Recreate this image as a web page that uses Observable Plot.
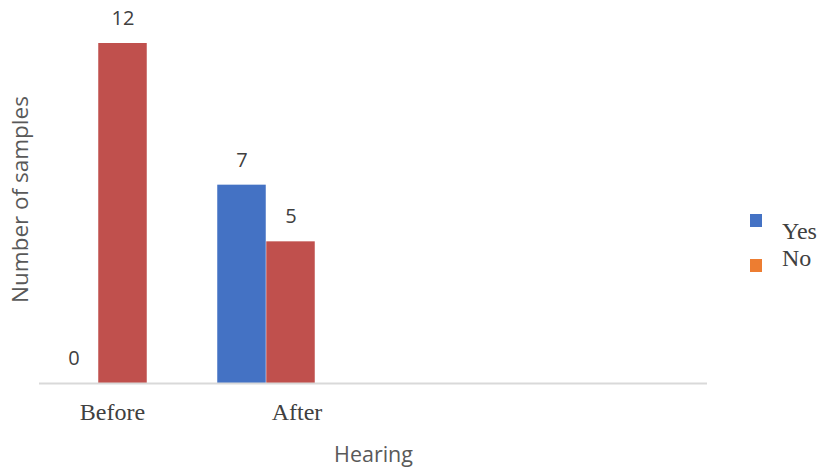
<!DOCTYPE html>
<html><head><meta charset="utf-8">
<script src="https://cdn.jsdelivr.net/npm/d3@7"></script>
<script src="https://cdn.jsdelivr.net/npm/@observablehq/plot@0.6"></script>
<style>
body{margin:0;background:#fff}
#wrap{position:relative;width:820px;height:468px;overflow:hidden}
.lg-sw{position:absolute;width:12px;height:13px}
.lg-tx{position:absolute;font-family:"Liberation Serif","Times New Roman",serif;font-size:24px;line-height:24px;color:#404040;white-space:nowrap}
</style>
</head><body><div id="wrap"></div>
<script>
const groups = ["Before", "After"];
const series = ["Yes", "No"];
const yesValues = [0, 7];
const noValues = [12, 5];
const barColors = ["#4472C4", "#C0504D"];
const legendColors = ["#4472C4", "#ED7D31"];
const xTitle = "Hearing";
const yTitle = "Number of samples";

const data = groups.flatMap((g, i) => [
  {group: g, series: series[0], value: yesValues[i]},
  {group: g, series: series[1], value: noValues[i]}
]);
const yesData = data.filter(d => d.series === series[0]);
const noData = data.filter(d => d.series === series[1]);

const sans = "'Open Sans', 'Noto Sans', sans-serif";
const serif = "'Liberation Serif', 'Times New Roman', serif";

// each group band is 168.5px wide; bars are 49px, the pair centred in the band
const barW = 49, band = 168.5, outer = (band - 2 * barW) / 2, start = 13.75;
const labelStyle = {lineAnchor: "middle", fontFamily: sans, fontSize: 20, fill: "#404040"};
const groupStyle = {frameAnchor: "bottom", lineAnchor: "middle", dy: 29, fontFamily: serif, fontSize: 24, fill: "#404040"};

const chart = Plot.plot({
  width: 820, height: 468,
  marginLeft: 39, marginRight: 113, marginTop: 43, marginBottom: 85,
  x: {domain: groups, range: [start, start + band * groups.length], paddingInner: 0, paddingOuter: 0, axis: null, label: null},
  y: {domain: [0, 12], axis: null, label: null},
  color: {domain: series, range: barColors},
  marks: [
    Plot.barY(yesData, {x: "group", y: "value", fill: "series", insetLeft: outer, insetRight: band - outer - barW}),
    Plot.barY(noData, {x: "group", y: "value", fill: "series", insetLeft: outer + barW, insetRight: outer}),
    Plot.ruleY([0], {stroke: "#d9d9d9", strokeWidth: 2}),
    Plot.text(yesData, {x: "group", y: "value", text: d => String(d.value), dx: -barW / 2, dy: -25, ...labelStyle}),
    Plot.text(noData, {x: "group", y: "value", text: d => String(d.value), dx: barW / 2, dy: -25, ...labelStyle}),
    Plot.text([groups[0]], {x: d => d, text: d => d, dx: 14, ...groupStyle}),
    Plot.text([groups[1]], {x: d => d, text: d => d, dx: 30.5, ...groupStyle}),
    Plot.text([xTitle], {text: d => d, frameAnchor: "bottom", lineAnchor: "middle", dy: 72, fontFamily: sans, fontSize: 21.5, fill: "#595959"}),
    Plot.text([yTitle], {text: d => d, frameAnchor: "left", textAnchor: "middle", rotate: -90, lineAnchor: "middle", dx: -19, dy: -14, fontFamily: sans, fontSize: 22.5, fill: "#595959"})
  ]
});

const wrap = document.getElementById("wrap");
wrap.appendChild(chart);

series.forEach((s, i) => {
  const sw = document.createElement("div");
  sw.className = "lg-sw";
  sw.style.left = "750px";
  sw.style.top = (214 + i * 45) + "px";
  sw.style.background = legendColors[i];
  wrap.appendChild(sw);
  const tx = document.createElement("div");
  tx.className = "lg-tx";
  tx.style.left = "782px";
  tx.style.top = (231 + i * 27 - 12) + "px";
  tx.textContent = s;
  wrap.appendChild(tx);
});
</script>
</body></html>
